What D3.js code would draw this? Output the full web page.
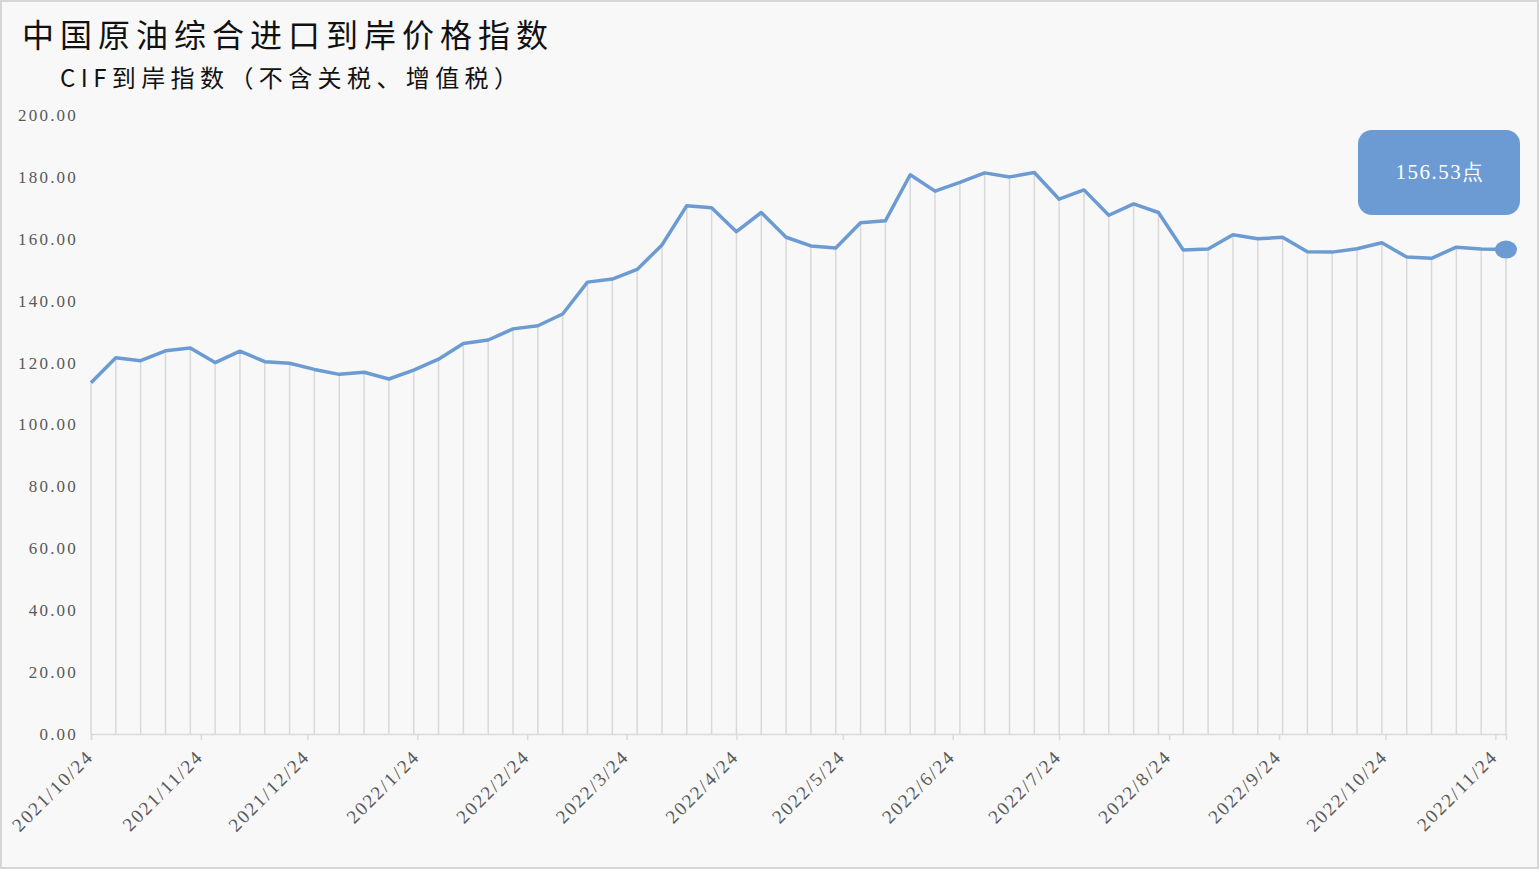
<!doctype html>
<html lang="zh">
  <head>
    <meta charset="UTF-8" />
    <title>中国原油综合进口到岸价格指数</title>
    <script src="https://d3js.org/d3.v7.min.js"></script>
    <style>
      html, body { margin: 0; padding: 0; background: #fff; }
      svg { display: block; }
      .num { font-family: "Liberation Serif", "DejaVu Serif", serif; }
      .cjk { font-family: "Noto Sans CJK SC", "Noto Sans", sans-serif; }
    </style>
  </head>
  <body>
    <svg id="chart"></svg>
  <script>
    // weekly points, first week starting 2021/10/24
    const startDate = "2021-10-24";
    const values = [
      113.5, 121.6, 120.6, 123.8, 124.7, 120.0, 123.7, 120.3, 119.8, 117.8,
      116.2, 116.9, 114.7, 117.6, 121.1, 126.2, 127.3, 130.9, 131.9, 135.7,
      146.0, 147.0, 150.1, 158.0, 170.7, 170.0, 162.3, 168.5, 160.5, 157.7,
      157.0, 165.2, 165.8, 180.7, 175.4, 178.2, 181.3, 180.0, 181.4, 172.8,
      175.8, 167.6, 171.3, 168.5, 156.4, 156.7, 161.3, 160.0, 160.5, 155.8,
      155.7, 156.8, 158.7, 154.1, 153.7, 157.3, 156.7, 156.53
    ];
    const yTicks = [0, 20, 40, 60, 80, 100, 120, 140, 160, 180, 200];
    const xTickLabels = [
      "2021/10/24", "2021/11/24", "2021/12/24", "2022/1/24", "2022/2/24",
      "2022/3/24", "2022/4/24", "2022/5/24", "2022/6/24", "2022/7/24",
      "2022/8/24", "2022/9/24", "2022/10/24", "2022/11/24"
    ];
    const title = "中国原油综合进口到岸价格指数";
    const subtitle = "CIF到岸指数（不含关税、增值税）";
    const calloutText = "156.53点";

    const width = 1539, height = 869;
    const lineColor = "#6b9bd2";

    const parse = d3.timeParse("%Y-%m-%d");
    const parseTick = d3.timeParse("%Y/%m/%d");
    const t0 = parse(startDate);
    const data = values.map((v, i) => ({ date: d3.timeDay.offset(t0, 7 * i), value: v }));

    const x = d3.scaleTime()
      .domain([data[0].date, data[data.length - 1].date])
      .range([91, 1506]);
    const y = d3.scaleLinear().domain([0, 200]).range([734, 115]);

    const svg = d3.select("#chart").attr("width", width).attr("height", height);

    svg.append("rect")
      .attr("x", 1).attr("y", 1)
      .attr("width", width - 2).attr("height", height - 2)
      .attr("fill", "#f8f8f8")
      .attr("stroke", "#d6d6d6")
      .attr("stroke-width", 2);

    // titles
    svg.append("text")
      .attr("class", "cjk")
      .attr("x", 22).attr("y", 47)
      .attr("font-size", 32)
      .attr("letter-spacing", 6)
      .attr("fill", "#111")
      .text(title);

    svg.append("text")
      .attr("class", "cjk")
      .attr("x", 60).attr("y", 87)
      .attr("font-size", 24)
      .attr("letter-spacing", 5.4)
      .attr("fill", "#111")
      .text(subtitle);

    // y labels
    svg.append("g")
      .selectAll("text")
      .data(yTicks)
      .join("text")
      .attr("class", "num")
      .attr("x", 78)
      .attr("y", d => y(d))
      .attr("dy", "0.35em")
      .attr("text-anchor", "end")
      .attr("font-size", 17)
      .attr("letter-spacing", 2.2)
      .attr("fill", "#595959")
      .text(d => d3.format(".2f")(d));

    // drop lines
    svg.append("g")
      .selectAll("line")
      .data(data)
      .join("line")
      .attr("x1", d => x(d.date)).attr("x2", d => x(d.date))
      .attr("y1", d => y(d.value)).attr("y2", y(0))
      .attr("stroke", "#d9d9d9")
      .attr("stroke-width", 1.5);

    // x axis
    const xAxis = d3.axisBottom(x)
      .tickValues(xTickLabels.map(parseTick))
      .tickSize(6)
      .tickFormat(d3.timeFormat("%Y/%-m/%-d"));

    const gx = svg.append("g")
      .attr("transform", `translate(0,${y(0)})`)
      .call(xAxis);
    gx.select(".domain").attr("stroke", "#d9d9d9").attr("stroke-width", 1.5);
    gx.selectAll(".tick line").attr("stroke", "#d9d9d9").attr("stroke-width", 1.5);
    gx.selectAll(".tick text")
      .attr("class", "num")
      .attr("font-size", 19)
      .attr("letter-spacing", 1.9)
      .attr("fill", "#595959")
      .attr("text-anchor", "end")
      .attr("transform", "translate(3,24) rotate(-45)")
      .attr("dy", 0)
      .attr("y", 0);

    // line
    const line = d3.line().x(d => x(d.date)).y(d => y(d.value));
    svg.append("path")
      .datum(data)
      .attr("d", line)
      .attr("fill", "none")
      .attr("stroke", lineColor)
      .attr("stroke-width", 3.5)
      .attr("stroke-linejoin", "round");

    // last point marker and callout
    const last = data[data.length - 1];
    svg.append("ellipse")
      .attr("cx", x(last.date)).attr("cy", y(last.value))
      .attr("rx", 11).attr("ry", 9)
      .attr("fill", lineColor);

    const cx = x(last.date) - 67, cy = 172;
    svg.append("rect")
      .attr("x", cx - 81).attr("y", cy - 42)
      .attr("width", 162).attr("height", 85)
      .attr("rx", 14)
      .attr("fill", lineColor);
    svg.append("text")
      .attr("class", "num")
      .attr("x", cx + 1).attr("y", cy)
      .attr("dy", "0.35em")
      .attr("text-anchor", "middle")
      .attr("font-size", 21)
      .attr("letter-spacing", 1.5)
      .attr("fill", "#fff")
      .text(calloutText);
  </script>
  </body>
</html>
